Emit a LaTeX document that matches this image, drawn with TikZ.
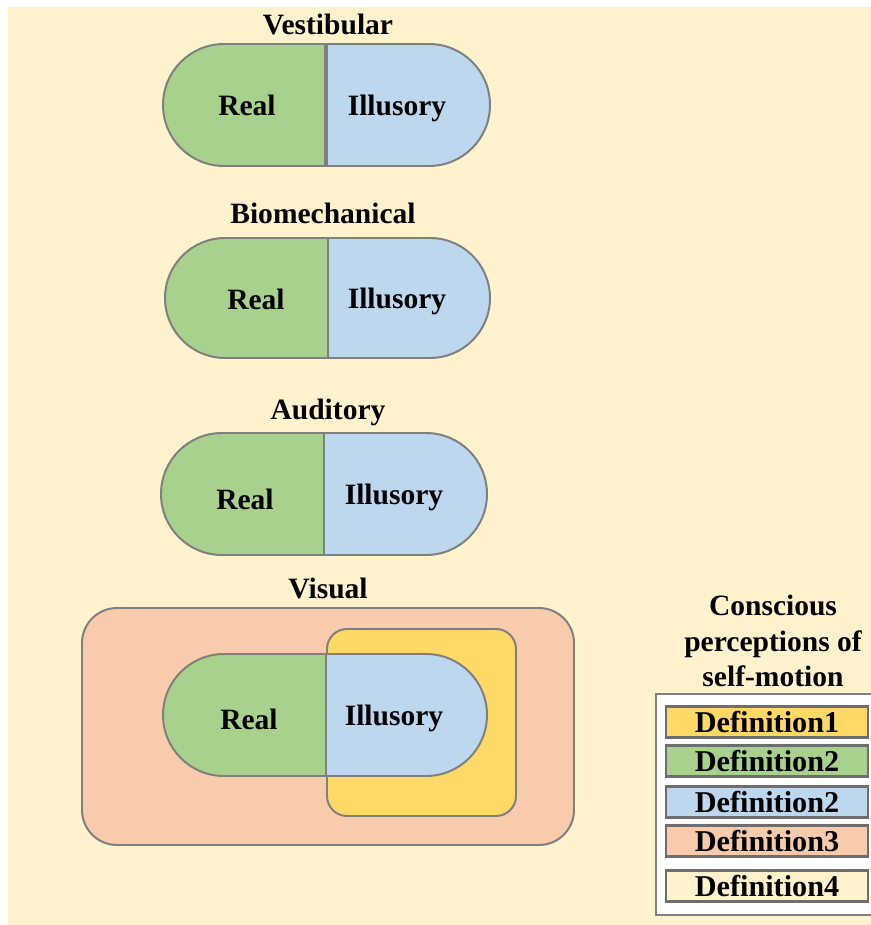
\documentclass[tikz,border=0pt]{standalone}
\usepackage{fontspec}
\setmainfont{Liberation Serif}
\usetikzlibrary{positioning}

\definecolor{bgyel}{HTML}{FFF2CC}
\definecolor{realg}{HTML}{A9D18E}
\definecolor{illb}{HTML}{BDD7EE}
\definecolor{defy}{HTML}{FFD966}
\definecolor{peach}{HTML}{F8CBAD}
\definecolor{lineg}{HTML}{7F7F7F}
\definecolor{boxg}{HTML}{6E6E6E}

\begin{document}
\begin{tikzpicture}[
    part/.style={draw=lineg, line width=1.4pt},
    sense/.style={font=\bfseries\fontsize{21}{25}\selectfont},
    lbl/.style={font=\bfseries\fontsize{21}{25}\selectfont},
    defbox/.style={draw=boxg, line width=2pt, minimum width=5.05cm, minimum height=0.78cm, inner sep=0pt, font=\bfseries\fontsize{21.5}{26}\selectfont}
]
\useasboundingbox (0,0) rectangle (21.775,-23.125);
\fill[bgyel] (0.2,-0.175) rectangle (21.775,-23.125);

% Vestibular
\node[sense] (vest) at (8.2,-0.6) {Vestibular};
\filldraw[part, fill=realg] (8.15,-1.1) -- (5.6,-1.1) arc[start angle=90, end angle=270, radius=1.525] -- (8.15,-4.15) -- cycle;
\filldraw[part, fill=illb] (8.15,-1.1) -- (10.725,-1.1) arc[start angle=90, end angle=-90, radius=1.525] -- (8.15,-4.15) -- cycle;
\draw[draw=lineg, line width=2.2pt] (8.15,-1.1) -- (8.15,-4.15);
\node[lbl] (vestR) at (6.175,-2.625) {Real};
\node[lbl] (vestI) at (9.925,-2.7) {Illusory};

% Biomechanical
\node[sense] (bio) at (8.075,-5.325) {Biomechanical};
\filldraw[part, fill=realg] (8.2,-5.95) -- (5.625,-5.95) arc[start angle=90, end angle=270, radius=1.5] -- (8.2,-8.95) -- cycle;
\filldraw[part, fill=illb] (8.2,-5.95) -- (10.75,-5.95) arc[start angle=90, end angle=-90, radius=1.5] -- (8.2,-8.95) -- cycle;
\node[lbl] (bioR) at (6.4,-7.475) {Real};
\node[lbl] (bioI) at (9.925,-7.525) {Illusory};

% Auditory
\node[sense] (aud) at (8.2,-10.3) {Auditory};
\filldraw[part, fill=realg] (8.1,-10.825) -- (5.55,-10.825) arc[start angle=90, end angle=270, radius=1.525] -- (8.1,-13.875) -- cycle;
\filldraw[part, fill=illb] (8.1,-10.825) -- (10.65,-10.825) arc[start angle=90, end angle=-90, radius=1.525] -- (8.1,-13.875) -- cycle;
\draw[draw=lineg, line width=1.9pt] (8.1,-10.825) -- (8.1,-13.875);
\node[lbl] (audR) at (6.125,-12.475) {Real};
\node[lbl] (audI) at (9.85,-12.425) {Illusory};

% Visual
\node[sense] (vis) at (8.2,-14.7) {Visual};
\filldraw[part, fill=peach, rounded corners=0.875cm] (2.05,-15.2) rectangle (14.35,-21.125);
\filldraw[part, fill=defy, rounded corners=0.5cm] (8.175,-15.725) rectangle (12.9,-20.4);
\filldraw[part, fill=realg] (8.15,-16.35) -- (5.6,-16.35) arc[start angle=90, end angle=270, radius=1.525] -- (8.15,-19.4) -- cycle;
\filldraw[part, fill=illb] (8.15,-16.35) -- (10.65,-16.35) arc[start angle=90, end angle=-90, radius=1.525] -- (8.15,-19.4) -- cycle;
\node[lbl] (visR) at (6.225,-17.975) {Real};
\node[lbl] (visI) at (9.85,-17.95) {Illusory};

% legend
\node[sense, align=center, font=\bfseries\fontsize{21}{25.3}\selectfont] (leg) at (19.325,-16.025) {Conscious\\perceptions of\\self-motion};
\filldraw[draw=lineg, line width=1.8pt, fill=white] (16.4,-17.35) rectangle (22.2,-22.875);
\node[defbox, fill=defy] (d1) at (19.175,-18.05) {Definition1};
\node[defbox, fill=realg] (d2) at (19.175,-19.025) {Definition2};
\node[defbox, fill=illb] (d2b) at (19.175,-20.05) {Definition2};
\node[defbox, fill=peach] (d3) at (19.175,-21.025) {Definition3};
\node[defbox, fill=bgyel] (d4) at (19.175,-22.15) {Definition4};
\end{tikzpicture}
\end{document}
